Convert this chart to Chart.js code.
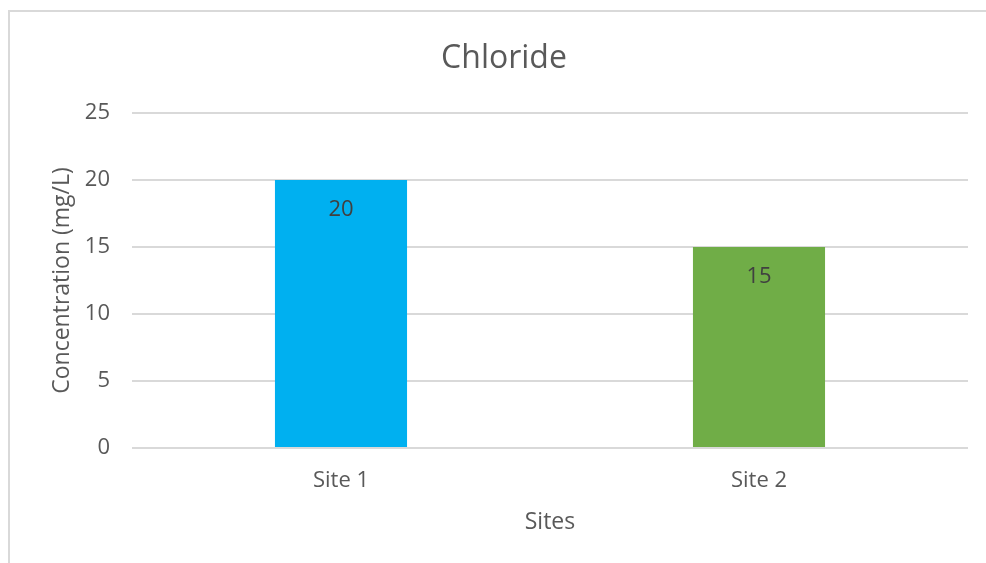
<!DOCTYPE html>
<html>
<head>
<meta charset="utf-8">
<title>Chloride</title>
<script src="https://cdn.jsdelivr.net/npm/chart.js@4/dist/chart.umd.min.js"></script>
<style>
  html, body { margin: 0; padding: 0; background: #fff; }
  body { width: 986px; height: 563px; position: relative; overflow: hidden; }
  /* rámeček grafu – jen horní a levá hrana jsou vidět */
  .frame {
    position: absolute; left: 8px; top: 10px; right: 0; bottom: 0;
    border-left: 2px solid #d9d9d9; border-top: 2px solid #d9d9d9;
  }
  #chart { position: absolute; left: 0; top: 0; }
</style>
</head>
<body>
<div class="frame"></div>
<canvas id="chart" width="986" height="563"></canvas>
<script>
// ---- data ----
const SITES = ['Site 1', 'Site 2'];
const CHLORIDE = [20, 15];
const BAR_COLORS = ['#00B0F0', '#70AD47'];
const Y_TICKS = [0, 5, 10, 15, 20, 25];

const FONT = '"Open Sans", "Noto Sans", sans-serif';
const TXT = '#595959';
const GRID = '#d9d9d9';

// popisky hodnot uvnitř sloupců (nahoře)
const valueLabels = {
  id: 'valueLabels',
  afterDatasetsDraw(chart) {
    const { ctx } = chart;
    ctx.save();
    ctx.font = '22px ' + FONT;
    ctx.fillStyle = '#404040';
    ctx.textAlign = 'center';
    ctx.textBaseline = 'middle';
    chart.getDatasetMeta(0).data.forEach((bar, i) => {
      ctx.fillText(String(CHLORIDE[i]), bar.x, bar.y + 30);
    });
    ctx.restore();
  }
};

new Chart(document.getElementById('chart'), {
  type: 'bar',
  data: {
    labels: SITES,
    datasets: [{
      data: CHLORIDE,
      backgroundColor: BAR_COLORS,
      borderWidth: 0,
      categoryPercentage: 1,
      barPercentage: 0.316,
    }]
  },
  options: {
    responsive: false,
    animation: false,
    layout: { padding: { top: 0, left: 40, right: 18, bottom: 0 } },
    plugins: {
      legend: { display: false },
      tooltip: { enabled: false },
      title: {
        display: true,
        text: 'Chloride',
        color: TXT,
        font: { family: FONT, size: 32, weight: 'normal' },
        padding: { top: 40, bottom: 34.6 }
      }
    },
    scales: {
      x: {
        grid: { display: false, drawTicks: false },
        border: { display: false },
        ticks: { color: TXT, font: { family: FONT, size: 22 }, padding: 20 },
        title: {
          display: true, text: 'Sites', color: TXT,
          font: { family: FONT, size: 23 }, padding: { top: 0, bottom: 27 }
        },
        afterFit: (s) => { s.height = 115; }
      },
      y: {
        min: 0, max: 25,
        afterBuildTicks: (s) => { s.ticks = Y_TICKS.map(v => ({ value: v })); },
        grid: { color: GRID, lineWidth: 2, drawTicks: false },
        border: { display: false },
        ticks: { color: TXT, font: { family: FONT, size: 22 }, padding: 22 },
        title: {
          display: true, text: 'Concentration (mg/L)', color: TXT,
          font: { family: FONT, size: 23 }, padding: { top: 9, bottom: 0 }
        },
        afterFit: (s) => { s.width = 92; }
      }
    }
  },
  plugins: [valueLabels]
});
</script>
</body>
</html>
